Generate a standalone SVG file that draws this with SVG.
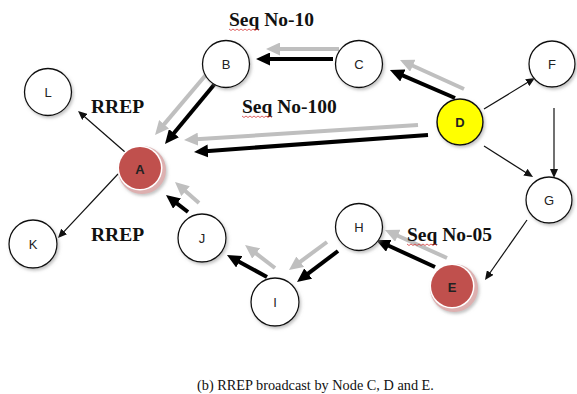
<svg xmlns="http://www.w3.org/2000/svg" width="577" height="394" viewBox="0 0 577 394">
<style>
.nd{fill:#fff;stroke:#111;stroke-width:1.3}
.lb{font-family:"Liberation Sans",Arial,sans-serif;font-size:13px;fill:#222;text-anchor:middle;dominant-baseline:central}
.lbb{font-weight:bold}
.tt{font-family:"Liberation Serif","Times New Roman",serif;font-weight:bold;font-size:19.5px;fill:#111}
.cap{font-family:"Liberation Serif","Times New Roman",serif;font-size:14.3px;fill:#111}
.thin{stroke:#111;stroke-width:1.2;fill:none;marker-end:url(#ht)}
.blk{stroke:#000;stroke-width:4;fill:none;marker-end:url(#hb)}
.gry{stroke:#bfbfbf;stroke-width:4;fill:none;marker-end:url(#hg)}
.sq{stroke:#d83a3a;stroke-width:0.8;fill:none}
</style>
<defs>
<marker id="ht" markerUnits="userSpaceOnUse" markerWidth="10" markerHeight="8" refX="6" refY="4" orient="auto"><path d="M0,0 L9,4 L0,8 z" fill="#111"/></marker>
<marker id="hb" markerUnits="userSpaceOnUse" markerWidth="14" markerHeight="13" refX="6" refY="6.5" orient="auto"><path d="M0,0 L14,6.5 L0,13 z" fill="#000"/></marker>
<marker id="hg" markerUnits="userSpaceOnUse" markerWidth="14" markerHeight="13" refX="6" refY="6.5" orient="auto"><path d="M0,0 L14,6.5 L0,13 z" fill="#bfbfbf"/></marker>
<filter id="sh" x="-30%" y="-30%" width="160%" height="160%"><feDropShadow dx="1.5" dy="2" stdDeviation="1.5" flood-color="#888" flood-opacity="0.5"/></filter>
</defs>
<rect width="577" height="394" fill="#fff"/>
<g id="connectors">
<line class="thin" x1="125" y1="152" x2="80.3" y2="113"/>
<line class="thin" x1="118" y1="174" x2="60" y2="235.8"/>
<line class="thin" x1="484" y1="109" x2="532.4" y2="79.6"/>
<line class="thin" x1="484" y1="146" x2="530.5" y2="175.4"/>
<line class="thin" x1="554" y1="108" x2="554" y2="175"/>
<line class="thin" x1="527" y1="220" x2="486.7" y2="277.5"/>
<line class="gry" x1="339" y1="49" x2="274" y2="49"/>
<line class="blk" x1="333" y1="59" x2="264" y2="59"/>
<line class="gry" x1="210" y1="70" x2="160.2" y2="128.9"/>
<line class="blk" x1="218" y1="80" x2="170.1" y2="137.8"/>
<line class="gry" x1="418" y1="125" x2="192" y2="139.5"/>
<line class="blk" x1="428" y1="135" x2="202" y2="151.4"/>
<line class="gry" x1="464" y1="89" x2="407.3" y2="63.3"/>
<line class="blk" x1="455" y1="98" x2="397.3" y2="73.2"/>
<line class="gry" x1="199" y1="203" x2="181" y2="187.3"/>
<line class="blk" x1="188" y1="212" x2="172.3" y2="199.9"/>
<line class="gry" x1="275" y1="268" x2="251.4" y2="249.9"/>
<line class="blk" x1="267" y1="277" x2="234" y2="258.9"/>
<line class="gry" x1="327" y1="242" x2="295.4" y2="265.3"/>
<line class="blk" x1="338" y1="251" x2="303.4" y2="277.2"/>
<line class="gry" x1="447" y1="258" x2="392.3" y2="233.3"/>
<line class="blk" x1="435" y1="267" x2="383.3" y2="243.3"/>
</g>
<g id="node-L"><circle class="nd" cx="48" cy="92" r="23.5" filter="url(#sh)"/><text class="lb" x="48" y="92">L</text></g>
<g id="node-B"><circle class="nd" cx="226" cy="64" r="23.5" filter="url(#sh)"/><text class="lb" x="226" y="64">B</text></g>
<g id="node-C"><circle class="nd" cx="359" cy="64" r="23.5" filter="url(#sh)"/><text class="lb" x="359" y="64">C</text></g>
<g id="node-F"><circle class="nd" cx="552" cy="64" r="23" filter="url(#sh)"/><text class="lb" x="552" y="64">F</text></g>
<g id="node-D"><circle cx="460" cy="122" r="23" fill="#ffff00" stroke="#111" stroke-width="1.5" filter="url(#sh)"/><text class="lb lbb" x="460" y="122">D</text></g>
<g id="node-A"><circle cx="142" cy="170" r="24" fill="#ddb0b0" filter="url(#sh)"/><circle cx="140" cy="168" r="22.5" fill="#fff"/><circle cx="140" cy="168" r="21" fill="#c0504d"/><text class="lb lbb" x="140" y="169">A</text></g>
<g id="node-G"><circle class="nd" cx="549" cy="200" r="23" filter="url(#sh)"/><text class="lb" x="549" y="200">G</text></g>
<g id="node-H"><circle class="nd" cx="359" cy="227" r="23.5" filter="url(#sh)"/><text class="lb" x="359" y="227">H</text></g>
<g id="node-E"><circle cx="454" cy="288" r="24" fill="#ddb0b0" filter="url(#sh)"/><circle cx="452" cy="286" r="22.5" fill="#fff"/><circle cx="452" cy="286" r="21" fill="#c0504d"/><text class="lb lbb" x="452" y="287">E</text></g>
<g id="node-J"><circle class="nd" cx="202" cy="238" r="24" filter="url(#sh)"/><text class="lb" x="202" y="238">J</text></g>
<g id="node-I"><circle class="nd" cx="275" cy="302" r="24" filter="url(#sh)"/><text class="lb" x="275" y="302">I</text></g>
<g id="node-K"><circle class="nd" cx="33" cy="244" r="24" filter="url(#sh)"/><text class="lb" x="33" y="244">K</text></g>
<g id="labels">
<text class="tt" x="229" y="26">Seq No-10</text>
<path class="sq" d="M229,29 l2,1.5 l2,-1.5 l2,1.5 l2,-1.5 l2,1.5 l2,-1.5 l2,1.5 l2,-1.5 l2,1.5 l2,-1.5 l2,1.5 l2,-1.5 l2,1.5 l2,-1.5 l2,1.5"/>
<text class="tt" x="91" y="113">RREP</text>
<text class="tt" x="242" y="113">Seq No-100</text>
<path class="sq" d="M242,116 l2,1.5 l2,-1.5 l2,1.5 l2,-1.5 l2,1.5 l2,-1.5 l2,1.5 l2,-1.5 l2,1.5 l2,-1.5 l2,1.5 l2,-1.5 l2,1.5 l2,-1.5 l2,1.5"/>
<text class="tt" x="91" y="241">RREP</text>
<text class="tt" x="407" y="241">Seq No-05</text>
<path class="sq" d="M407,244 l2,1.5 l2,-1.5 l2,1.5 l2,-1.5 l2,1.5 l2,-1.5 l2,1.5 l2,-1.5 l2,1.5 l2,-1.5 l2,1.5 l2,-1.5 l2,1.5 l2,-1.5 l2,1.5"/>
<text class="cap" x="197" y="390">(b) RREP broadcast by Node C, D and E.</text>
</g>
</svg>
